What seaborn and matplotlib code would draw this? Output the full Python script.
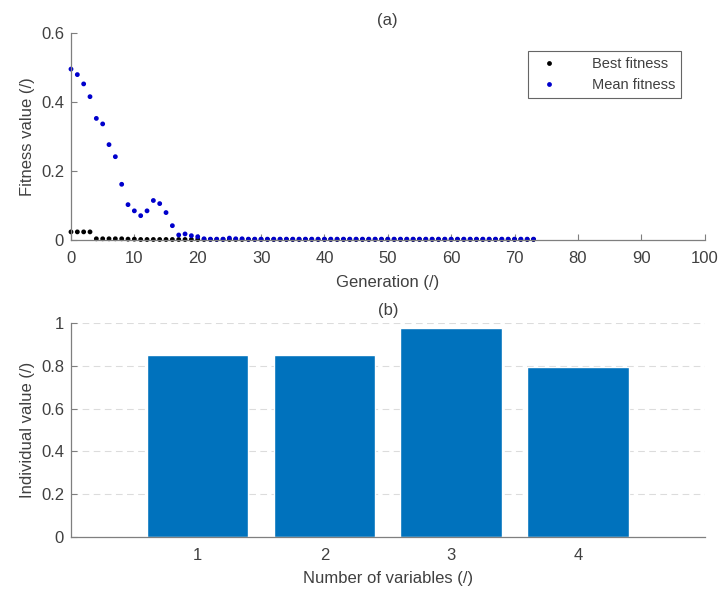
import numpy as np
import pandas as pd
import matplotlib
matplotlib.use("Agg")
import matplotlib.pyplot as plt
import seaborn as sns

# -----------------------------
# DATA
# -----------------------------
generation = list(range(74))

mean_fitness = [0.496, 0.480, 0.453, 0.416, 0.353, 0.337, 0.277, 0.242, 0.162, 0.103,
                0.085, 0.071, 0.085, 0.115, 0.106, 0.080, 0.042, 0.015, 0.018, 0.013,
                0.010, 0.004, 0.003, 0.003, 0.003, 0.006, 0.004, 0.004, 0.003, 0.003,
                0.003, 0.003, 0.003, 0.003, 0.003, 0.003, 0.003, 0.003, 0.003, 0.003,
                0.003, 0.003, 0.003, 0.003, 0.003, 0.003, 0.003, 0.003, 0.003, 0.003,
                0.003, 0.003, 0.003, 0.003, 0.003, 0.003, 0.003, 0.003, 0.003, 0.003,
                0.003, 0.003, 0.003, 0.003, 0.003, 0.003, 0.003, 0.003, 0.003, 0.003,
                0.003, 0.003, 0.003, 0.003]

best_fitness = [0.024, 0.024, 0.024, 0.024, 0.004, 0.004, 0.004, 0.004, 0.004, 0.003,
                0.003, 0.002, 0.002, 0.002, 0.002, 0.002, 0.002, 0.002, 0.002, 0.002,
                0.002, 0.002, 0.002, 0.002, 0.002, 0.002, 0.002, 0.002, 0.002, 0.002,
                0.002, 0.002, 0.002, 0.002, 0.002, 0.002, 0.002, 0.002, 0.002, 0.002,
                0.002, 0.002, 0.002, 0.002, 0.002, 0.002, 0.002, 0.002, 0.002, 0.002,
                0.002, 0.002, 0.002, 0.002, 0.002, 0.002, 0.002, 0.002, 0.002, 0.002,
                0.002, 0.002, 0.002, 0.002, 0.002, 0.002, 0.002, 0.002, 0.002, 0.002,
                0.002, 0.002, 0.002, 0.002]

variables = [1, 2, 3, 4]
individual_value = [0.849, 0.849, 0.977, 0.793]

# -----------------------------
# STYLE
# -----------------------------
sns.set_style("white")
plt.rcParams['font.family'] = ['Liberation Sans', 'DejaVu Sans']
text_col = "#404040"
axis_col = "#7f7f7f"
plt.rcParams['text.color'] = text_col
plt.rcParams['axes.labelcolor'] = text_col
plt.rcParams['xtick.color'] = axis_col
plt.rcParams['ytick.color'] = axis_col
plt.rcParams['xtick.labelcolor'] = text_col
plt.rcParams['ytick.labelcolor'] = text_col

fig = plt.figure(figsize=(7.2, 5.93), dpi=100)
ax1 = fig.add_axes([0.0986, 0.595, 0.880, 0.349])
ax2 = fig.add_axes([0.0986, 0.0944, 0.880, 0.361])

# -----------------------------
# (a) fitness scatter
# -----------------------------
df_a = pd.DataFrame({
    "Generation": generation * 2,
    "Fitness": best_fitness + mean_fitness,
    "Series": ["Best fitness"] * len(generation) + ["Mean fitness"] * len(generation),
})
sns.scatterplot(data=df_a, x="Generation", y="Fitness", hue="Series",
                palette={"Best fitness": "black", "Mean fitness": "#0000cc"},
                s=12, linewidth=0, ax=ax1, clip_on=False)

ax1.set_xlim(0, 100)
ax1.set_ylim(0, 0.6)
ax1.set_xticks(range(0, 101, 10))
ax1.set_yticks([0, 0.2, 0.4, 0.6])
ax1.set_yticklabels(["0", "0.2", "0.4", "0.6"])
ax1.set_xlabel("Generation (/)", fontsize=12, labelpad=6)
ax1.set_ylabel("Fitness value (/)", fontsize=12, labelpad=4)
ax1.set_title("(a)", fontsize=12, pad=6)
leg = ax1.legend(loc="upper right", fontsize=10.5, frameon=True, fancybox=False,
                 markerscale=1.0, handletextpad=2.0, borderpad=0.4,
                 bbox_to_anchor=(0.975, 0.95))
leg.get_frame().set_edgecolor("#404040")
leg.get_frame().set_linewidth(0.8)

# -----------------------------
# (b) bar chart
# -----------------------------
df_b = pd.DataFrame({"Variables": variables, "Value": individual_value})
sns.barplot(data=df_b, x="Variables", y="Value", native_scale=True,
            color="#0072BD", saturation=1, width=0.8, ax=ax2, zorder=2)
ax2.set_xlim(0, 5)
ax2.set_ylim(0, 1)
ax2.set_xticks(variables)
ax2.set_yticks([0, 0.2, 0.4, 0.6, 0.8, 1])
ax2.set_yticklabels(["0", "0.2", "0.4", "0.6", "0.8", "1"])
ax2.yaxis.grid(True, linestyle=(0, (6, 4)), color="#dcdcdc", linewidth=0.8, zorder=0)
ax2.set_axisbelow(True)
ax2.set_xlabel("Number of variables (/)", fontsize=12, labelpad=6)
ax2.set_ylabel("Individual value (/)", fontsize=12, labelpad=4)
ax2.set_title("(b)", fontsize=12, pad=6)

for ax in (ax1, ax2):
    for side in ("top", "right"):
        ax.spines[side].set_visible(False)
    for side in ("left", "bottom"):
        ax.spines[side].set_color(axis_col)
        ax.spines[side].set_linewidth(0.9)
    ax.tick_params(direction="in", length=4, width=0.8, labelsize=12,
                   left=True, bottom=True)
    ax.tick_params(axis="x", pad=8)
    ax.tick_params(axis="y", pad=5)

fig.savefig("out.png", dpi=100)
